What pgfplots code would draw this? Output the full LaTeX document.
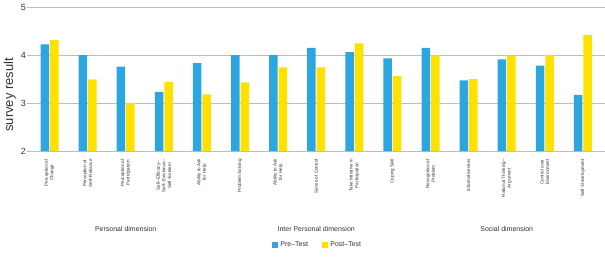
\documentclass[border=0pt]{standalone}
\usepackage{pgfplots}
\pgfplotsset{compat=1.18}
\usepackage{fontspec}
\setmainfont{Liberation Sans}
\definecolor{preblue}{HTML}{2CA6E0}
\definecolor{postyellow}{HTML}{FFE100}
\definecolor{gridgray}{HTML}{BDBDBD}
\definecolor{txt}{HTML}{333333}
\begin{document}
\begin{tikzpicture}
\begin{axis}[
  at={(0,0)}, anchor=south west,
  scale only axis,
  width=575bp, height=144bp,
  xmin=-0.512, xmax=14.58,
  ymin=2, ymax=5,
  ytick={2,3,4,5},
  xtick={0,...,14},
  xticklabels={
    {Perception of\\Change},
    {Perception of\\Self–Reliance},
    {Perception of\\Participation},
    {Self–Efficacy–\\Self–Existence–\\Self–Esteem},
    {Ability to Ask\\for Help},
    {Problem Solving},
    {Ability to Ask\\for Help},
    {Sense of Control},
    {Take Initiative in\\Participation},
    {Coping Skill},
    {Recognition of\\Problem},
    {Informativeness},
    {Rational Thinking–\\Argument},
    {Control over\\Environment},
    {Self–Development}},
  xticklabel style={rotate=90, anchor=east, align=center, inner sep=0pt,
    font=\fontsize{4.6}{5.6}\selectfont, text=txt},
  xticklabel shift=5bp,
  xtick style={draw=none},
  ytick style={draw=gridgray, line width=0.8bp},
  tick align=outside,
  major tick length=3bp,
  yticklabel style={font=\fontsize{9}{10}\selectfont, text=txt, inner sep=0pt},
  yticklabel shift=1bp,
  /pgf/number format/assume math mode=true,
  ymajorgrids,
  major grid style={draw=gridgray, line width=0.8bp},
  axis line style={draw=none},
  ylabel={survey result},
  every axis y label/.style={at={(axis description cs:-0.035,0.39)}, rotate=90, anchor=center,
    font=\fontsize{13}{14}\selectfont, text=txt},
  legend columns=2,
  legend style={draw=none, fill=none, at={(0.5,-0.653)}, anchor=center,
    font=\fontsize{7}{8}\selectfont, text=txt, inner sep=0pt,
    /tikz/every even column/.append style={column sep=12bp}},
]
\addplot[ybar, bar width=8.5bp, bar shift=-4.75bp, fill=preblue, draw=none,
  legend image code/.code={\fill[preblue] (0bp,-3.2bp) rectangle (6.5bp,3.2bp);}]
  coordinates {(0,4.22) (1,4.00) (2,3.76) (3,3.23) (4,3.83) (5,4.00) (6,4.00) (7,4.15)
    (8,4.06) (9,3.93) (10,4.15) (11,3.47) (12,3.91) (13,3.78) (14,3.17)};
\addlegendentry{Pre–Test}
\addplot[ybar, bar width=8.5bp, bar shift=4.75bp, fill=postyellow, draw=none,
  legend image code/.code={\fill[postyellow] (0bp,-3.2bp) rectangle (6.5bp,3.2bp);}]
  coordinates {(0,4.31) (1,3.49) (2,3.00) (3,3.44) (4,3.18) (5,3.43) (6,3.74) (7,3.74)
    (8,4.24) (9,3.56) (10,3.99) (11,3.50) (12,3.99) (13,4.00) (14,4.42)};
\addlegendentry{Post–Test}
\coordinate (g1) at (axis cs:2,2);
\coordinate (g2) at (axis cs:7,2);
\coordinate (g3) at (axis cs:12,2);
\end{axis}
\node[font=\fontsize{7}{8}\selectfont, text=txt, inner sep=0pt] at ([yshift=-78bp]g1) {Personal dimension};
\node[font=\fontsize{7}{8}\selectfont, text=txt, inner sep=0pt] at ([yshift=-78bp]g2) {Inter Personal dimension};
\node[font=\fontsize{7}{8}\selectfont, text=txt, inner sep=0pt] at ([yshift=-78bp]g3) {Social dimension};
\pgfresetboundingbox
\path[use as bounding box] (-30bp,-108bp) rectangle (575bp,151bp);
\end{tikzpicture}
\end{document}
